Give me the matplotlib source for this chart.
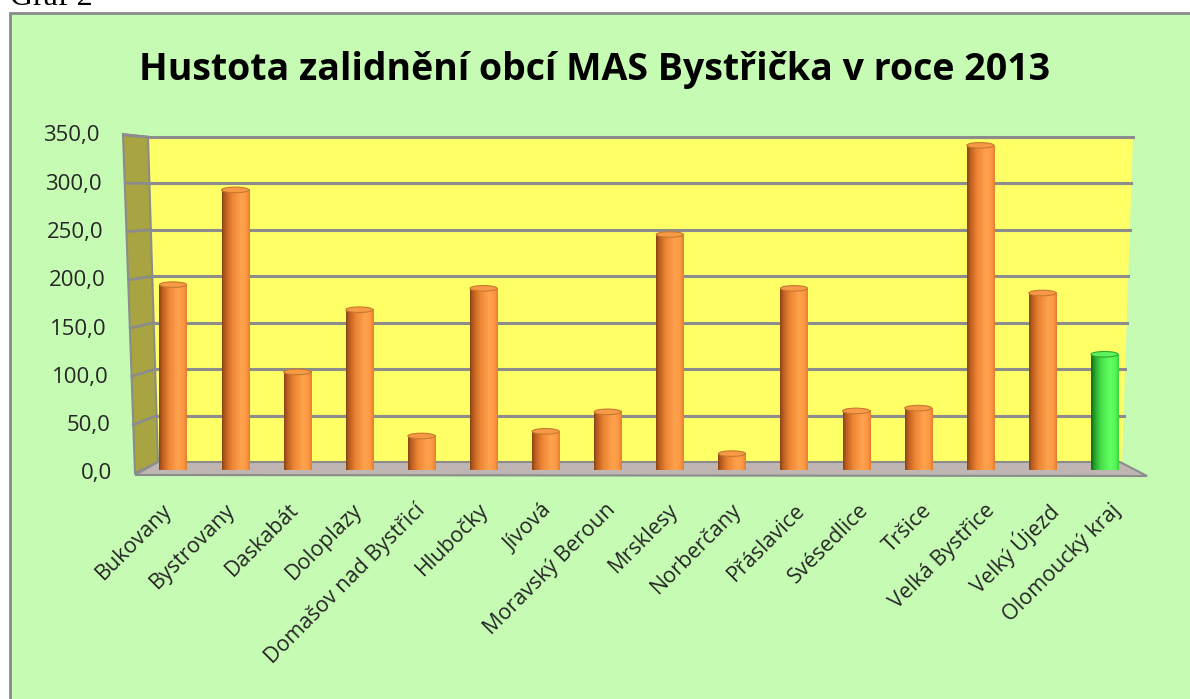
import numpy as np
import matplotlib
matplotlib.use("Agg")
import matplotlib.pyplot as plt
from matplotlib.patches import Rectangle, Polygon, Ellipse
from matplotlib.lines import Line2D
from matplotlib.transforms import blended_transform_factory

# ---------------- data ----------------
categories = ["Bukovany", "Bystrovany", "Daskabát", "Doloplazy", "Domašov nad Bystřicí",
              "Hlubočky", "Jívová", "Moravský Beroun", "Mrsklesy", "Norberčany",
              "Přáslavice", "Svésedlice", "Tršice", "Velká Bystřice", "Velký Újezd",
              "Olomoucký kraj"]
values = [191.0, 293.0, 97.0, 164.0, 28.0, 187.0, 33.0, 54.0, 245.0, 9.0,
          187.0, 55.0, 58.0, 341.0, 182.0, 116.0]
highlight = ["Olomoucký kraj"]
yticks = [0, 50, 100, 150, 200, 250, 300, 350]
ytick_labels = ["0,0", "50,0", "100,0", "150,0", "200,0", "250,0", "300,0", "350,0"]
title = "Hustota zalidnění obcí MAS Bystřička v roce 2013"
caption = "Graf 2"

# ---------------- styling ----------------
W, H = 1190, 699
FONT = ["Open Sans", "DejaVu Sans"]
BG_GREEN = "#C6FBB4"
WALL_YELLOW = "#FFFF66"
SIDE_OLIVE = "#A7A441"
FLOOR = "#BFB5B2"
GRID = "#8C8C8C"

def P(x, y):
    return (x / W, 1 - y / H)

fig = plt.figure(figsize=(W / 100, H / 100), dpi=100)
fig.patch.set_facecolor("white")

# outer chart frame (continues past the right and bottom edges)
fig.add_artist(Rectangle(P(10, 710), (1210 - 10) / W, (710 - 13) / H,
                         transform=fig.transFigure, facecolor=BG_GREEN,
                         edgecolor="#8A8A8A", linewidth=2, zorder=0))
fig.text(10 / W, 1 - 5 / H, caption, family=["Liberation Serif", "DejaVu Serif"],
         fontsize=23, va="baseline", ha="left", color="black")

# plot axes = back wall
ax_l, ax_r, ax_t, ax_b = 148, 1133, 137, 462
ax = fig.add_axes([ax_l / W, 1 - ax_b / H, (ax_r - ax_l) / W, (ax_b - ax_t) / H])
ax.set_facecolor("none")
ax.axis("off")
x = np.arange(len(categories))
XLIM = (-0.4026, 15.459)
YLIM = (0, 350)

tf = fig.transFigure
# back wall (slightly trapezoidal, perspective)
ax.add_patch(Polygon([P(148, 137), P(1133, 137), P(1122, 462), P(158, 462)],
                     closed=True, transform=tf, facecolor=WALL_YELLOW,
                     edgecolor="none", clip_on=False, zorder=0.5))
# left side wall
ax.add_patch(Polygon([P(123, 134), P(148, 137), P(158, 462), P(135, 473)],
                     closed=True, transform=tf, facecolor=SIDE_OLIVE,
                     edgecolor=GRID, linewidth=1.5, clip_on=False, zorder=0.6))
# floor
ax.add_patch(Polygon([P(158, 462), P(1120, 462), P(1147, 476), P(135, 475)],
                     closed=True, transform=tf, facecolor=FLOOR,
                     edgecolor=GRID, linewidth=1.5, clip_on=False, zorder=0.6))

# gridlines on back wall and side wall
for v, lab in zip(yticks, ytick_labels):
    f = v / 350.0
    yg = ax_b - f * (ax_b - ax_t)
    xl = 148 + (1 - f) * 10
    xr = 1133 - (1 - f) * 11
    yfront = 473 - f * 338
    xfront = 135 - f * 11
    if v > 0:
        ax.add_line(Line2D([P(xl, yg)[0], P(xr, yg)[0]], [P(xl, yg)[1], P(xr, yg)[1]],
                           transform=tf, color=GRID, linewidth=2.2, clip_on=False,
                           zorder=0.8))
        ax.add_line(Line2D([P(xfront, yfront)[0], P(xl, yg)[0]],
                           [P(xfront, yfront)[1], P(xl, yg)[1]],
                           transform=tf, color=GRID, linewidth=2.0, clip_on=False,
                           zorder=0.8))
    # y tick labels along the front edge of the side wall
    fig.text((112 - f * 12) / W, 1 - (474 - f * 338) / H, lab,
             ha="right", va="center", fontsize=16, family=FONT, color="#262626")

# ---------------- cylinders ----------------
def make_grad(stops, n=64):
    ts = np.array([s[0] for s in stops])
    cols = np.array([s[1] for s in stops], dtype=float) / 255.0
    t = np.linspace(0, 1, n)
    g = np.stack([np.interp(t, ts, cols[:, k]) for k in range(3)], axis=-1)
    return g[np.newaxis, :, :]

orange_grad = make_grad([(0.0, (140, 68, 18)), (0.12, (190, 95, 32)), (0.35, (236, 132, 52)),
                         (0.68, (255, 162, 78)), (0.88, (252, 152, 66)), (1.0, (228, 126, 46))])
green_grad = make_grad([(0.0, (18, 105, 22)), (0.12, (36, 160, 40)), (0.35, (70, 222, 72)),
                        (0.68, (96, 255, 96)), (0.88, (86, 246, 86)), (1.0, (60, 212, 62))])

bw = 0.435
base = -5.4          # bar base sits slightly in front of the back wall
ell_h_top = 6.0
ell_h_bot = 6.5
bars = ax.bar(x, np.array(values) - base, bottom=base, width=bw,
              facecolor="none", edgecolor="none", zorder=3, clip_on=False)
for xi, v, name, rect in zip(x, values, categories, bars):
    hl = name in highlight
    grad = green_grad if hl else orange_grad
    top_fc = "#5CF25C" if hl else "#F79A45"
    top_ec = "#2FA82F" if hl else "#C9782F"
    x0, x1 = xi - bw / 2, xi + bw / 2
    im = ax.imshow(grad, extent=(x0, x1, base, v), aspect="auto",
                   interpolation="bilinear", zorder=3, clip_on=False)
    im.set_clip_path(rect)
    bot = Ellipse((xi, base), bw, ell_h_bot, facecolor="none", edgecolor="none",
                  zorder=3, clip_on=False)
    ax.add_patch(bot)
    im2 = ax.imshow(grad, extent=(x0, x1, base - ell_h_bot / 2, base + 0.5), aspect="auto",
                    interpolation="bilinear", zorder=3, clip_on=False)
    im2.set_clip_path(bot)
    ax.add_patch(Ellipse((xi, v), bw, ell_h_top, facecolor=top_fc, edgecolor=top_ec,
                         linewidth=0.8, zorder=4, clip_on=False))

ax.set_xlim(*XLIM)
ax.set_ylim(*YLIM)

# x category labels (on the front edge, slightly wider spacing due to perspective)
trans = blended_transform_factory(ax.transData, ax.transAxes)
for xi, name in zip(x, categories):
    ax.text(xi * 1.0188 - 0.064, -45 / (ax_b - ax_t), name, transform=trans,
            rotation=45, rotation_mode="anchor", ha="right", va="center",
            fontsize=15.5, family=FONT, color="#262626", clip_on=False)

# title
fig.text(595 / W, 1 - 80 / H, title, ha="center", va="baseline",
         fontsize=27, fontweight="bold", family=FONT, color="black")

fig.savefig("out.png", dpi=100, facecolor=fig.get_facecolor())
